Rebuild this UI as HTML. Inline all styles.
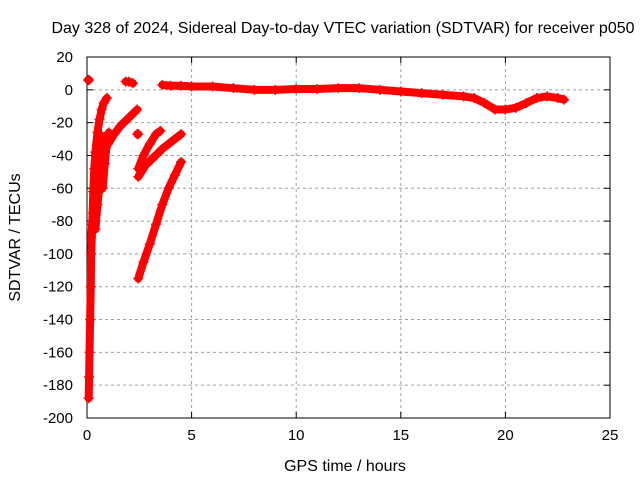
<!DOCTYPE html>
<html><head><meta charset="utf-8"><style>
body{margin:0;background:#fff;}
svg{display:block;font-family:"Liberation Sans",sans-serif;font-size:15px;}
</style></head><body>
<svg id="chart" width="640" height="480"></svg>
<script>
const xTicks=[0,5,10,15,20,25];
const yTicks=[20,0,-20,-40,-60,-80,-100,-120,-140,-160,-180,-200];
const seriesFlatStart=[[0.05,6],[0.1,6]];
const seriesFlatEarly=[[1.85,5],[2.0,5],[2.2,4]];
const seriesIsolated=[[2.4,-27],[2.45,-27]];
const seriesSteep=[[0.08,-188],[0.1,-175],[0.12,-160],[0.15,-140],[0.18,-120],[0.2,-100],[0.25,-82],[0.3,-62],[0.35,-48],[0.4,-38],[0.5,-26],[0.6,-18],[0.7,-12],[0.8,-8],[0.95,-5]];
const seriesSteepInner=[[0.2,-90],[0.3,-75],[0.4,-60],[0.5,-45],[0.6,-35],[0.7,-28]];
const seriesArc2=[[0.4,-85],[0.5,-70],[0.6,-58],[0.7,-48],[0.85,-38],[1.0,-33],[1.3,-27],[1.6,-22],[2.0,-17],[2.4,-12]];
const seriesArc3=[[0.75,-60],[0.85,-45],[0.95,-32],[1.05,-26]];
const seriesWedgeUpper=[[2.45,-48],[2.7,-40],[3.0,-33],[3.3,-27],[3.5,-25]];
const seriesWedgeLower=[[2.45,-53],[2.8,-46],[3.2,-41],[3.6,-36],[4.0,-32],[4.5,-27]];
const seriesStreak=[[2.45,-115],[2.7,-105],[3.0,-94],[3.3,-82],[3.6,-70],[3.9,-60],[4.2,-52],[4.5,-44]];
const seriesMain=[[3.6,3],[4.0,2.5],[4.5,2.5],[5,2],[6,2],[7,1],[8,0],[9,0],[10,0.5],[11,0.5],[12,1],[13,1],[14,0],[15,-1],[16,-2],[17,-3],[18,-4],[18.5,-5],[19,-8],[19.5,-12],[20,-12],[20.5,-11],[21,-8],[21.5,-5],[22,-4],[22.5,-5],[22.8,-6]];
const allSeries=[seriesFlatStart,seriesFlatEarly,seriesIsolated,seriesSteep,seriesSteepInner,seriesArc2,seriesArc3,seriesWedgeUpper,seriesWedgeLower,seriesStreak,seriesMain];

const NS="http://www.w3.org/2000/svg";
const svg=document.getElementById('chart');
const L=87,R=610,T=57,B=418;
const xs=v=>L+(v-0)/25*(R-L);
const ys=v=>T+(20-v)/220*(B-T);
function mk(tag,attrs,parent){const e=document.createElementNS(NS,tag);for(const k in attrs)e.setAttribute(k,attrs[k]);(parent||svg).appendChild(e);return e;}

let t=mk('text',{x:343,y:33,'text-anchor':'middle','font-size':'16'});
t.textContent='Day 328 of 2024, Sidereal Day-to-day VTEC variation (SDTVAR) for receiver p050';



xTicks.forEach(v=>{
  const x=xs(v);
  if(v>0&&v<25){const g=mk('line',{x1:x,x2:x,y1:T,y2:B,stroke:'#a0a0a0','stroke-dasharray':'3,3'});
  
  }
  mk('line',{x1:x,x2:x,y1:B,y2:B-6,stroke:'#000'});
  mk('line',{x1:x,x2:x,y1:T,y2:T+6,stroke:'#000'});
  const l=mk('text',{x:x,y:B+22,'text-anchor':'middle'});l.textContent=v;
  
  
});
yTicks.forEach(v=>{
  const y=ys(v);
  if(v<20&&v>-200){const g=mk('line',{x1:L,x2:R,y1:y,y2:y,stroke:'#a0a0a0','stroke-dasharray':'3,3'});
  
  }
  mk('line',{x1:L,x2:L+6,y1:y,y2:y,stroke:'#000'});
  mk('line',{x1:R,x2:R-6,y1:y,y2:y,stroke:'#000'});
  const l=mk('text',{x:L-14,y:y+5,'text-anchor':'end'});l.textContent=v;
  
  
});
const frame=mk('rect',{x:L,y:T,width:R-L,height:B-T,fill:'none',stroke:'#000'});



const xl=mk('text',{x:345,y:471,'text-anchor':'middle','font-size':'16'});xl.textContent='GPS time / hours';


const yl=mk('text',{x:0,y:0,'text-anchor':'middle','font-size':'16',transform:`translate(20,${(T+B)/2}) rotate(-90)`});yl.textContent='SDTVAR / TECUs';



const g=mk('g',{});


allSeries.forEach(s=>{
  const pts=s.map(p=>xs(p[0])+','+ys(p[1])).join(' ');
  const pl=mk('polyline',{points:pts,fill:'none',stroke:'#ff0000','stroke-width':8,'stroke-linejoin':'round','stroke-linecap':'round'},g);
  
  
  s.forEach(p=>{
    const x=xs(p[0]),y=ys(p[1]);
    const m=mk('path',{d:`M${x-5},${y}H${x+5}M${x},${y-5}V${y+5}`,stroke:'#ff0000','stroke-width':1.5},g);
    
    
  });
});
</script>
</body></html>
